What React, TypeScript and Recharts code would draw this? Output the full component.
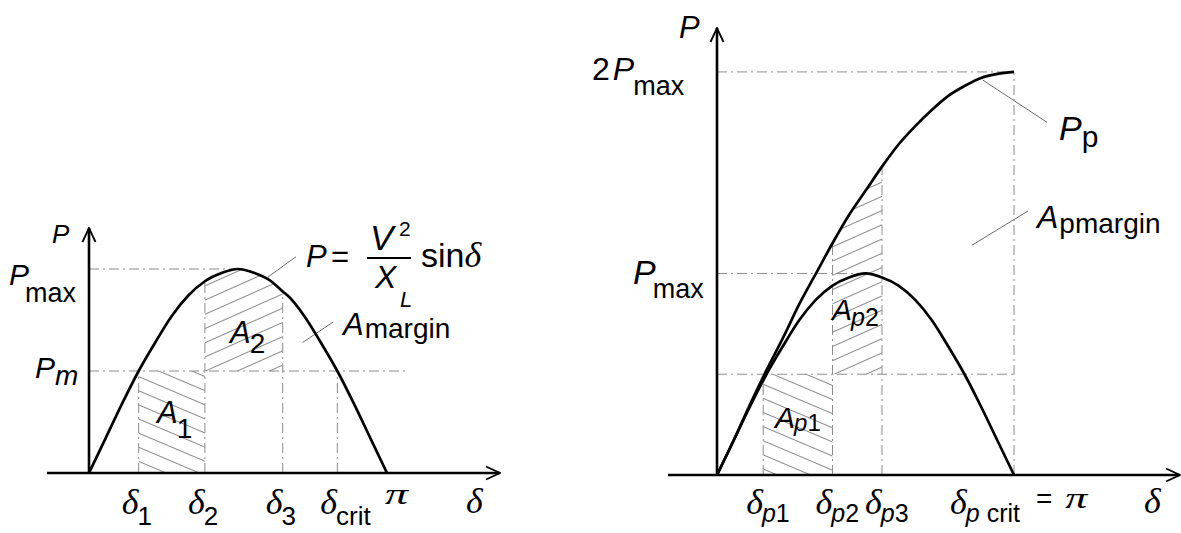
import React from "react";
import { Area, ComposedChart, Line, ReferenceArea, ReferenceLine, XAxis, YAxis } from "recharts";

// ---- left panel: P = V²/X_L sin δ (δ in degrees, P in units of Pmax) ----
const deltaLeft = [0, 10, 20, 30, 40, 50, 60, 70, 80, 90, 100, 110, 117, 120, 130, 140, 150, 160, 170, 180];
const powerLeft = [0, 0.17, 0.34, 0.5, 0.64, 0.77, 0.87, 0.94, 0.98, 1, 0.98, 0.94, 0.89, 0.87, 0.77, 0.64, 0.5, 0.34, 0.17, 0];
const pmLeft = 0.5;
const ticksLeft = [30, 70, 117, 150, 180]; // δ1, δ2, δ3, δcrit, π
const tickNamesLeft = [
  { main: "δ", sub: "1" },
  { main: "δ", sub: "2" },
  { main: "δ", sub: "3" },
  { main: "δ", sub: "crit" },
  { main: "π", sub: "" },
];
const yTicksLeft = [0.5, 1];
const yNamesLeft = ["Pm", "Pmax"];

// ---- right panel: Pmax curve and compensated Pp curve ----
const deltaRight = [0, 10, 20, 30, 40, 50, 60, 70, 80, 90, 100, 110, 120, 130, 140, 150, 160, 170, 180];
const powerRight = [0, 0.17, 0.34, 0.5, 0.64, 0.77, 0.87, 0.94, 0.98, 1, 0.98, 0.94, 0.87, 0.77, 0.64, 0.5, 0.34, 0.17, 0];
const powerPp = [0, 0.17, 0.35, 0.52, 0.68, 0.85, 1, 1.15, 1.29, 1.41, 1.53, 1.64, 1.73, 1.81, 1.88, 1.93, 1.97, 1.99, 2];
const pmRight = 0.5;
const ticksRight = [28, 70, 100, 180]; // δp1, δp2, δp3, δp crit = π
const tickNamesRight = [
  { main: "δ", sub: "p1" },
  { main: "δ", sub: "p2" },
  { main: "δ", sub: "p3" },
  { main: "δ", sub: "p crit", tail: "π" },
];
const yTicksRight = [1, 2];
const yNamesRight = ["Pmax", "2Pmax"];

const SANS = "'Liberation Sans', Arial, Helvetica, sans-serif";
const SERIF = "'Liberation Serif', 'Times New Roman', serif";
const GUIDE = { stroke: "#8c8c8c", strokeWidth: 1, strokeDasharray: "10 4 2 4" };
const LEADER = { stroke: "#6a6a6a", strokeWidth: 1 };

const at = (xs: number[], ys: number[], x: number) => ys[xs.indexOf(x)];

const rowsLeft = deltaLeft.map((d, i) => ({
  d,
  p: powerLeft[i],
  a2: d >= ticksLeft[1] && d <= ticksLeft[2] ? [pmLeft, powerLeft[i]] : null,
}));

const rowsRight = deltaRight.map((d, i) => ({
  d,
  p: powerRight[i],
  pp: powerPp[i],
  a2: d >= ticksRight[1] && d <= ticksRight[2] ? [pmRight, powerPp[i]] : null,
}));

const axisShape = (p: any) => (
  <line x1={p.x1} y1={p.y1} x2={p.x2} y2={p.y2} stroke="#000" strokeWidth={2.6} markerEnd="url(#arrowHead)" />
);

function Sub({ text, size }: { text: string; size: number }) {
  // subscripts: a leading "p" is italic, the rest upright
  if (text.startsWith("p")) {
    const rest = text.slice(1).trim();
    const gap = text.startsWith("p ") ? 7 : 0;
    return (
      <>
        <tspan fontStyle="italic" fontSize={size}>p</tspan>
        <tspan fontSize={size} dx={gap}>{rest}</tspan>
      </>
    );
  }
  return <tspan fontSize={size}>{text}</tspan>;
}

function DeltaTick(props: any) {
  const { x, y, payload, ticks, names, side } = props;
  const n = names[ticks.indexOf(payload.value)];
  if (!n) return null;
  if (n.main === "π") {
    return (
      <text x={x - 2} y={y + 31} fill="#000" fontFamily={SERIF} fontStyle="italic" fontSize={30} textLength={23} lengthAdjust="spacingAndGlyphs">
        π
      </text>
    );
  }
  const base = side === "L" ? 41 : 39;
  const subDy = side === "L" ? 11 : 8;
  const dx = n.tail ? -64 : -17;
  return (
    <text x={x + dx} y={y + base} fontFamily={SANS} fill="#000">
      <tspan fontFamily={SERIF} fontStyle="italic" fontSize={36}>δ</tspan>
      <tspan dy={subDy} dx={-1}>
        <Sub text={n.sub} size={side === "L" ? 26 : 25} />
      </tspan>
      {n.tail && (
        <>
          <tspan dy={-subDy - 6} dx={16} fontSize={28}>=</tspan>
          <tspan dx={13} fontFamily={SERIF} fontStyle="italic" fontSize={30} textLength={22} lengthAdjust="spacingAndGlyphs">
            {n.tail}
          </tspan>
        </>
      )}
    </text>
  );
}

// pixel offsets of the y tick labels relative to the tick point
const yLayout: Record<string, { dx: number; dy: number; pSize: number; subDx: number; subDy: number }> = {
  "L:Pm": { dx: -54, dy: 7, pSize: 30, subDx: 0, subDy: 7 },
  "L:Pmax": { dx: -80, dy: 16, pSize: 30, subDx: -4, subDy: 17 },
  "R:Pmax": { dx: -84, dy: 11, pSize: 34, subDx: -3, subDy: 14 },
  "R:2Pmax": { dx: -125, dy: 8, pSize: 32, subDx: -1, subDy: 15 },
};

function PTick(props: any) {
  const { x, y, payload, ticks, names, side } = props;
  const name: string = names[ticks.indexOf(payload.value)];
  if (!name) return null;
  const l = yLayout[`${side}:${name}`];
  const lead = name.startsWith("2");
  const sub = name.slice(lead ? 2 : 1);
  return (
    <text x={x + l.dx} y={y + l.dy} fontFamily={SANS} fill="#000">
      {lead && <tspan fontSize={32}>2</tspan>}
      <tspan fontStyle="italic" fontSize={l.pSize} dx={lead ? 3 : 0}>P</tspan>
      <tspan dx={l.subDx} dy={l.subDy} fontSize={sub === "m" ? 28 : 27} fontStyle={sub === "m" ? "italic" : "normal"}>
        {sub}
      </tspan>
    </text>
  );
}

function LeftPanel() {
  return (
    <ComposedChart width={540} height={533} data={rowsLeft} margin={{ top: 228, right: 40, bottom: 30, left: 49 }}>
      <XAxis
        type="number"
        dataKey="d"
        domain={[0, 248.25]}
        allowDataOverflow
        ticks={ticksLeft}
        interval={0}
        height={30}
        axisLine={false}
        tickLine={false}
        tickSize={0}
        tickMargin={0}
        tick={(p: any) => <DeltaTick {...p} ticks={ticksLeft} names={tickNamesLeft} side="L" />}
      />
      <YAxis
        type="number"
        domain={[0, 1.201]}
        allowDataOverflow
        ticks={yTicksLeft}
        interval={0}
        width={40}
        axisLine={false}
        tickLine={false}
        tickSize={0}
        tickMargin={0}
        tick={(p: any) => <PTick {...p} ticks={yTicksLeft} names={yNamesLeft} side="L" />}
      />
      <ReferenceArea x1={ticksLeft[0]} x2={ticksLeft[1]} y1={0} y2={pmLeft} fill="url(#hatchDown)" fillOpacity={1} stroke="none" ifOverflow="visible" />
      <Area type="monotone" dataKey="a2" fill="url(#hatchUp)" fillOpacity={1} stroke="none" isAnimationActive={false} activeDot={false} />

      <ReferenceLine segment={[{ x: 0, y: 1 }, { x: 90, y: 1 }]} {...GUIDE} ifOverflow="visible" />
      <ReferenceLine segment={[{ x: 0, y: pmLeft }, { x: 193, y: pmLeft }]} {...GUIDE} ifOverflow="visible" />
      <ReferenceLine segment={[{ x: ticksLeft[0], y: 0 }, { x: ticksLeft[0], y: pmLeft }]} {...GUIDE} ifOverflow="visible" />
      <ReferenceLine segment={[{ x: ticksLeft[1], y: 0 }, { x: ticksLeft[1], y: at(deltaLeft, powerLeft, ticksLeft[1]) }]} {...GUIDE} ifOverflow="visible" />
      <ReferenceLine segment={[{ x: ticksLeft[2], y: 0 }, { x: ticksLeft[2], y: at(deltaLeft, powerLeft, ticksLeft[2]) }]} {...GUIDE} ifOverflow="visible" />
      <ReferenceLine segment={[{ x: ticksLeft[3], y: 0 }, { x: ticksLeft[3], y: pmLeft }]} {...GUIDE} ifOverflow="visible" />

      {/* leaders to the formula and A_margin */}
      <ReferenceLine segment={[{ x: 108, y: 0.96 }, { x: 125, y: 1.06 }]} {...LEADER} ifOverflow="visible" />
      <ReferenceLine segment={[{ x: 129, y: 0.64 }, { x: 147.5, y: 0.74 }]} {...LEADER} ifOverflow="visible" />

      <ReferenceLine segment={[{ x: -25.4, y: 0 }, { x: 248.25, y: 0 }]} shape={axisShape} ifOverflow="visible" />
      <ReferenceLine segment={[{ x: 0, y: 0 }, { x: 0, y: 1.201 }]} shape={axisShape} ifOverflow="visible" />

      <Line type="monotone" dataKey="p" stroke="#000" strokeWidth={2.7} dot={false} activeDot={false} isAnimationActive={false} />
    </ComposedChart>
  );
}

function RightPanel() {
  return (
    <ComposedChart width={641} height={533} data={rowsRight} margin={{ top: 28, right: 1, bottom: 28, left: 137 }}>
      <XAxis
        type="number"
        dataKey="d"
        domain={[0, 280.6]}
        allowDataOverflow
        ticks={ticksRight}
        interval={0}
        height={30}
        axisLine={false}
        tickLine={false}
        tickSize={0}
        tickMargin={0}
        tick={(p: any) => <DeltaTick {...p} ticks={ticksRight} names={tickNamesRight} side="R" />}
      />
      <YAxis
        type="number"
        domain={[0, 2.218]}
        allowDataOverflow
        ticks={yTicksRight}
        interval={0}
        width={40}
        axisLine={false}
        tickLine={false}
        tickSize={0}
        tickMargin={0}
        tick={(p: any) => <PTick {...p} ticks={yTicksRight} names={yNamesRight} side="R" />}
      />
      <ReferenceArea x1={ticksRight[0]} x2={ticksRight[1]} y1={0} y2={pmRight} fill="url(#hatchDown)" fillOpacity={1} stroke="none" ifOverflow="visible" />
      <Area type="monotone" dataKey="a2" fill="url(#hatchUp)" fillOpacity={1} stroke="none" isAnimationActive={false} activeDot={false} />

      <ReferenceLine segment={[{ x: 0, y: 2 }, { x: 180, y: 2 }]} {...GUIDE} ifOverflow="visible" />
      <ReferenceLine segment={[{ x: 0, y: 1 }, { x: 90, y: 1 }]} {...GUIDE} ifOverflow="visible" />
      <ReferenceLine segment={[{ x: 0, y: pmRight }, { x: 180, y: pmRight }]} {...GUIDE} ifOverflow="visible" />
      <ReferenceLine segment={[{ x: ticksRight[0], y: 0 }, { x: ticksRight[0], y: pmRight }]} {...GUIDE} ifOverflow="visible" />
      <ReferenceLine segment={[{ x: ticksRight[1], y: 0 }, { x: ticksRight[1], y: at(deltaRight, powerPp, ticksRight[1]) }]} {...GUIDE} ifOverflow="visible" />
      <ReferenceLine segment={[{ x: ticksRight[2], y: 0 }, { x: ticksRight[2], y: at(deltaRight, powerPp, ticksRight[2]) }]} {...GUIDE} ifOverflow="visible" />
      <ReferenceLine segment={[{ x: ticksRight[3], y: 0 }, { x: ticksRight[3], y: 2 }]} {...GUIDE} ifOverflow="visible" />

      {/* leaders to P_p and A_pmargin */}
      <ReferenceLine segment={[{ x: 161, y: 1.96 }, { x: 200, y: 1.75 }]} {...LEADER} ifOverflow="visible" />
      <ReferenceLine segment={[{ x: 154.5, y: 1.14 }, { x: 188.5, y: 1.31 }]} {...LEADER} ifOverflow="visible" />

      <ReferenceLine segment={[{ x: -29.7, y: 0 }, { x: 280.6, y: 0 }]} shape={axisShape} ifOverflow="visible" />
      <ReferenceLine segment={[{ x: 0, y: 0 }, { x: 0, y: 2.218 }]} shape={axisShape} ifOverflow="visible" />

      <Line type="monotone" dataKey="p" stroke="#000" strokeWidth={2.7} dot={false} activeDot={false} isAnimationActive={false} />
      <Line type="monotone" dataKey="pp" stroke="#000" strokeWidth={2.7} dot={false} activeDot={false} isAnimationActive={false} />
    </ComposedChart>
  );
}

function Annotations() {
  const it = { fontStyle: "italic" as const };
  return (
    <svg width={1181} height={533} style={{ position: "absolute", left: 0, top: 0, pointerEvents: "none" }} fontFamily={SANS} fill="#000">
      {/* axis names */}
      <text x={52} y={243} fontSize={26} {...it}>P</text>
      <text x={679} y={38} fontSize={31} {...it}>P</text>
      <text x={466} y={513} fontSize={36} fontFamily={SERIF} {...it}>δ</text>
      <text x={1144} y={513} fontSize={36} fontFamily={SERIF} {...it}>δ</text>

      {/* area names, left */}
      <text x={157} y={423} fontSize={31}>
        <tspan {...it}>A</tspan>
        <tspan dx={-1} dy={15} fontSize={28}>1</tspan>
      </text>
      <text x={230} y={343} fontSize={31}>
        <tspan {...it}>A</tspan>
        <tspan dx={-1} dy={10} fontSize={28}>2</tspan>
      </text>
      <text x={343} y={335} fontSize={31}>
        <tspan {...it}>A</tspan>
        <tspan dx={1} dy={3} fontSize={28}>margin</tspan>
      </text>

      {/* formula */}
      <text x={306} y={267} fontSize={31} {...it}>P</text>
      <text x={331} y={267} fontSize={31}>=</text>
      <line x1={367} y1={258} x2={411} y2={258} stroke="#000" strokeWidth={2} />
      <text x={370} y={250} fontSize={35} {...it}>V</text>
      <text x={399} y={236} fontSize={21}>2</text>
      <text x={375} y={288} fontSize={32} {...it}>X</text>
      <text x={400} y={307} fontSize={22} {...it}>L</text>
      <text x={421} y={267} fontSize={34}>
        sin<tspan fontFamily={SERIF} {...it} fontSize={36}>δ</tspan>
      </text>

      {/* right panel names */}
      <text x={1059} y={140} fontSize={34}>
        <tspan {...it}>P</tspan>
        <tspan dx={0} dy={7} fontSize={30}>p</tspan>
      </text>
      <text x={1037} y={228} fontSize={32}>
        <tspan {...it}>A</tspan>
        <tspan dx={1} dy={5} fontSize={28}>pmargin</tspan>
      </text>
      <text x={775} y={428} fontSize={30}>
        <tspan {...it}>A</tspan>
        <tspan dx={-1} dy={3} fontSize={24} {...it}>p</tspan>
        <tspan fontSize={24}>1</tspan>
      </text>
      <text x={832} y={320} fontSize={30}>
        <tspan {...it}>A</tspan>
        <tspan dx={-1} dy={6} fontSize={25} {...it}>p</tspan>
        <tspan fontSize={25}>2</tspan>
      </text>
    </svg>
  );
}

export default function App() {
  return (
    <div style={{ position: "absolute", left: 0, top: 0, width: 1181, height: 533, background: "#fff", overflow: "hidden" }}>
      <svg width={0} height={0} style={{ position: "absolute" }}>
        <defs>
          <pattern id="hatchDown" width={20} height={13} patternUnits="userSpaceOnUse" patternTransform="rotate(23)">
            <line x1={0} y1={6.5} x2={20} y2={6.5} stroke="#8a8a8a" strokeWidth={1} />
          </pattern>
          <pattern id="hatchUp" width={20} height={13} patternUnits="userSpaceOnUse" patternTransform="rotate(-24)">
            <line x1={0} y1={6.5} x2={20} y2={6.5} stroke="#8a8a8a" strokeWidth={1} />
          </pattern>
          <marker id="arrowHead" viewBox="0 0 16 16" refX={15} refY={8} markerWidth={16} markerHeight={16} markerUnits="userSpaceOnUse" orient="auto">
            <path d="M1,1.5 L15,8 L1,14.5" fill="none" stroke="#000" strokeWidth={1.8} />
          </marker>
        </defs>
      </svg>
      <div style={{ position: "absolute", left: 0, top: 0 }}>
        <LeftPanel />
      </div>
      <div style={{ position: "absolute", left: 540, top: 0 }}>
        <RightPanel />
      </div>
      <Annotations />
    </div>
  );
}
